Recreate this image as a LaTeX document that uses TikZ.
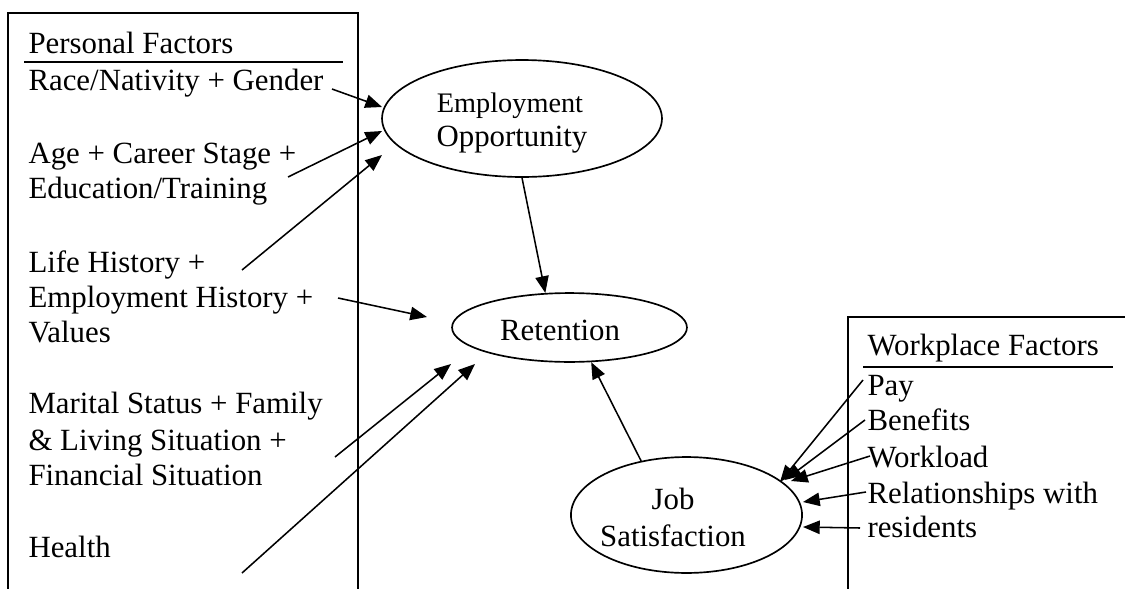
\documentclass[tikz,border=0pt]{standalone}
\usepackage{fontspec}
\setmainfont{Liberation Serif}
\usetikzlibrary{arrows.meta, shapes.geometric, positioning}

\tikzset{
  factor/.style={anchor=base west, inner sep=0pt, font=\fontsize{12}{13.8}\selectfont},
  label/.style={anchor=base, inner sep=0pt, font=\fontsize{12}{13.8}\selectfont},
  bubble/.style={ellipse, draw, line width=0.65pt, inner sep=0pt},
  arr/.style={-{Triangle[length=6.5pt, width=5.2pt]}, line width=0.6pt},
  frame/.style={line width=0.7pt},
  rule/.style={line width=0.8pt}
}

\begin{document}
\begin{tikzpicture}[x=0.389pt, y=-0.389pt]
                        \useasboundingbox (0, 0) rectangle (1125, 589);

                        % boxes
                        \draw[frame] (8, 589) -- (8, 13) -- (358, 13) -- (358, 589);
                        \draw[frame] (848, 589) -- (848, 317) -- (1125, 317);
                        \draw[rule] (24, 62) -- (343, 62);
                        \draw[rule] (863, 367) -- (1113, 367);

                        % personal factors
                        \node[factor] (pf) at (28, 53) {Personal Factors};
                        \node[factor] (race) at (28, 90) {Race/Nativity + Gender};
                        \node[factor] (age) at (28, 163) {Age + Career Stage +};
                        \node[factor] (edu) at (28, 198) {Education/Training};
                        \node[factor] (life) at (28, 272) {Life History +};
                        \node[factor] (emph) at (28, 307) {Employment History +};
                        \node[factor] (val) at (28, 342) {Values};
                        \node[factor] (mar) at (28, 413) {Marital Status + Family};
                        \node[factor] (fam) at (28, 450) {\& Living Situation +};
                        \node[factor] (fin) at (28, 485) {Financial Situation};
                        \node[factor] (hlth) at (28, 557) {Health};

                        % workplace factors
                        \node[factor] (wf) at (867, 355) {Workplace Factors};
                        \node[factor] (pay) at (867, 395) {Pay};
                        \node[factor] (ben) at (867, 430) {Benefits};
                        \node[factor] (work) at (867, 467) {Workload};
                        \node[factor] (rel) at (867, 503) {Relationships with};
                        \node[factor] (res) at (867, 537) {residents};

                        % outcomes
                        \node[bubble, minimum width=108.9pt, minimum height=45.5pt] (emp) at (522, 118.5) {};
                        \node[bubble, minimum width=91.4pt, minimum height=26.8pt] (ret) at (569.5, 327.5) {};
                        \node[bubble, minimum width=89.9pt, minimum height=45.1pt] (job) at (686.5, 515) {};
                        \node[label, font=\fontsize{11}{13}\selectfont] (empa) at (510, 112) {Employment};
                        \node[label] (empb) at (512, 146) {Opportunity};
                        \node[label] (retl) at (560, 340) {Retention};
                        \node[label] (joba) at (673, 509) {Job};
                        \node[label] (jobb) at (673, 546) {Satisfaction};

                        % arrow ends
                        \coordinate (raceT) at (332, 89);   \coordinate (raceH) at (382, 107);
                        \coordinate (ageT) at (288, 177);   \coordinate (ageH) at (382, 131);
                        \coordinate (lifeT) at (242, 270);  \coordinate (lifeH) at (382, 155);
                        \coordinate (emphT) at (338, 298);  \coordinate (emphH) at (427, 317);
                        \coordinate (marT) at (335, 457);   \coordinate (marH) at (451, 364);
                        \coordinate (hlthT) at (242, 573);  \coordinate (hlthH) at (475, 364);
                        \coordinate (payT) at (863, 380);   \coordinate (payH) at (780, 482);
                        \coordinate (benT) at (865, 420);   \coordinate (benH) at (785, 480);
                        \coordinate (workT) at (870, 456);  \coordinate (workH) at (791, 481);
                        \coordinate (relT) at (866, 492);   \coordinate (relH) at (803, 502);
                        \coordinate (resT) at (860, 528);   \coordinate (resH) at (803, 527);

                        \draw[arr] (raceT) -- (raceH);
                        \draw[arr] (ageT) -- (ageH);
                        \draw[arr] (lifeT) -- (lifeH);
                        \draw[arr] (emphT) -- (emphH);
                        \draw[arr] (marT) -- (marH);
                        \draw[arr] (hlthT) -- (hlthH);
                        \draw[arr] (emp.south) -- (ret.125);
                        \draw[arr] (job.130) -- (ret.302);
                        \draw[arr] (payT) -- (payH);
                        \draw[arr] (benT) -- (benH);
                        \draw[arr] (workT) -- (workH);
                        \draw[arr] (relT) -- (relH);
                        \draw[arr] (resT) -- (resH);
                    \end{tikzpicture}
\end{document}
